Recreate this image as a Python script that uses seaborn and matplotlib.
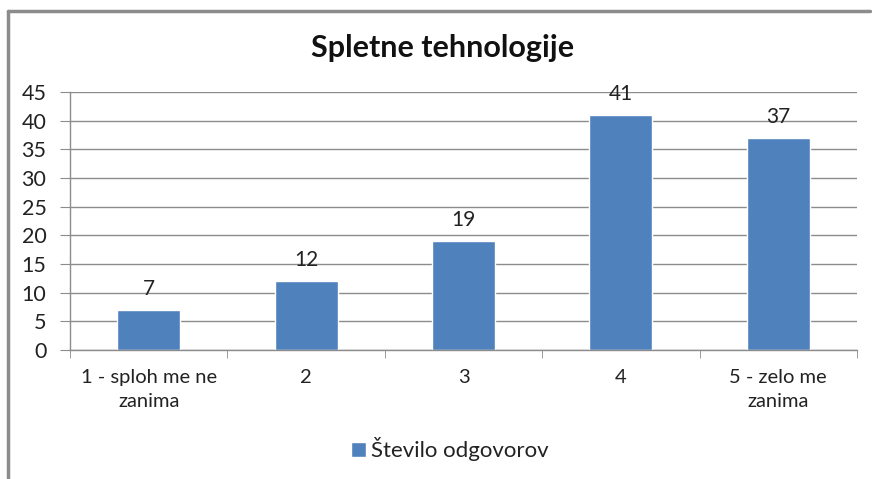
import pandas as pd
import numpy as np
import matplotlib.pyplot as plt
import seaborn as sns
from matplotlib.lines import Line2D

categories = ['1 - sploh me ne\nzanima', '2', '3', '4', '5 - zelo me\nzanima']
counts = [7, 12, 19, 41, 37]
series_name = 'Število odgovorov'
yticks = [0, 5, 10, 15, 20, 25, 30, 35, 40, 45]

df = pd.DataFrame({'kategorija': categories, 'odgovori': counts})

sns.set_style("white")
plt.rcParams['font.family'] = ['Lato', 'DejaVu Sans']

fig = plt.figure(figsize=(8.72, 4.79), dpi=100)
ax = fig.add_axes([0.0803, 0.2693, 0.9025, 0.5386])

sns.barplot(data=df, x='kategorija', y='odgovori', color='#4F81BD',
            width=0.4, saturation=1, label=series_name, ax=ax)

ax.set_xlim(-0.5, len(categories) - 0.5)
ax.set_ylim(0, 45)
ax.set_yticks(yticks)
ax.yaxis.grid(True, color='#8c8c8c', linewidth=1)
ax.set_axisbelow(True)
ax.set_xlabel('')
ax.set_ylabel('')

for s in ['top', 'right']:
    ax.spines[s].set_visible(False)
for s in ['left', 'bottom']:
    ax.spines[s].set_color('#8c8c8c')
    ax.spines[s].set_linewidth(1)

ax.tick_params(axis='y', which='major', length=7, color='#8c8c8c', labelsize=15.5,
               pad=10, left=True, labelcolor='#222222')
ax.tick_params(axis='x', which='major', length=0, labelsize=14.5, pad=14,
               labelcolor='#222222')
for lbl in ax.get_xticklabels():
    lbl.set_linespacing(1.45)
ax.set_xticks(np.arange(-0.5, len(categories), 1), minor=True)
ax.tick_params(axis='x', which='minor', length=6, color='#8c8c8c', bottom=True)

for i, v in enumerate(counts):
    ax.text(i, v + 1.9, str(v), ha='center', va='bottom', fontsize=15, color='#222222')

fig.text(0.508, 0.90, 'Spletne tehnologije', ha='center', va='center',
         fontsize=22, fontweight='bold', color='#111111')

ax.legend(loc='center', bbox_to_anchor=(0.483, -0.385), frameon=False,
          fontsize=16, handlelength=0.65, handleheight=0.65, handletextpad=0.25,
          labelcolor='#222222')

# chart frame (left and top edges)
fig.add_artist(Line2D([0.0092, 0.0092], [0, 0.977], color='#8c8c8c', linewidth=2.5))
fig.add_artist(Line2D([0.0092, 0.998], [0.977, 0.977], color='#8c8c8c', linewidth=2.5))

fig.savefig('out.png', dpi=100)
